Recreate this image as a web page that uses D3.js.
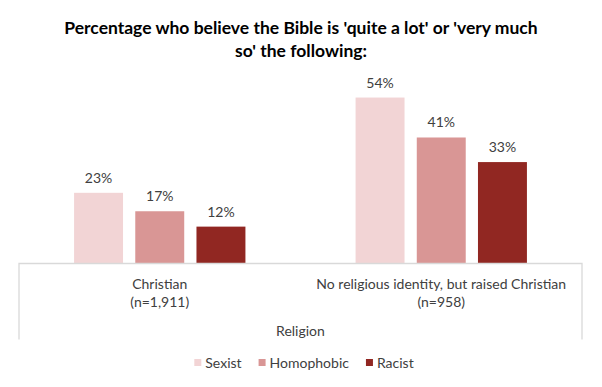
<!DOCTYPE html>
<html>
<head>
<meta charset="utf-8">
<script src="https://cdn.jsdelivr.net/npm/d3@7"></script>
<style>
  body { margin: 0; background: #fff; }
  text { font-family: Lato, "Open Sans", sans-serif; }
</style>
</head>
<body>
<div id="chart"></div>
<script>
// Chart data
const groups = ["Christian", "No religious identity, but raised Christian"];
const groupNotes = ["(n=1,911)", "(n=958)"];
const series = ["Sexist", "Homophobic", "Racist"];
const sexist = [23, 54];
const homophobic = [17, 41];
const racist = [12, 33];
const colors = ["#f2d4d5", "#d99695", "#912722"];

const W = 602, H = 387;
const left = 19, right = 582, base = 263.5;

const svg = d3.select("#chart")
  .append("svg")
  .attr("width", W)
  .attr("height", H);

// Title
svg.append("text")
  .attr("x", 301).attr("y", 33.5)
  .attr("text-anchor", "middle")
  .style("font-size", "17.5px").style("font-weight", "bold").attr("fill", "#000")
  .text("Percentage who believe the Bible is 'quite a lot' or 'very much");
svg.append("text")
  .attr("x", 301).attr("y", 57)
  .attr("text-anchor", "middle")
  .style("font-size", "17.5px").style("font-weight", "bold").attr("fill", "#000")
  .text("so' the following:");

// Scales
const x0 = d3.scaleBand().domain(groups).range([left, right]);
const x1 = d3.scaleBand().domain(series).range([0, x0.bandwidth()])
  .paddingInner(0.2).paddingOuter(0.9);
const y = d3.scaleLinear().domain([0, 60]).range([base, base - 184.4]);
const color = d3.scaleOrdinal().domain(series).range(colors);

const values = { Sexist: sexist, Homophobic: homophobic, Racist: racist };
const rows = [];
groups.forEach((g, gi) => {
  series.forEach(s => rows.push({ group: g, key: s, value: values[s][gi] }));
});

// Bars
svg.selectAll(".bar")
  .data(rows)
  .enter()
  .append("rect")
  .attr("x", d => x0(d.group) + x1(d.key))
  .attr("y", d => y(d.value))
  .attr("width", x1.bandwidth())
  .attr("height", d => y(0) - y(d.value))
  .attr("fill", d => color(d.key));

// Value labels
svg.selectAll(".val")
  .data(rows)
  .enter()
  .append("text")
  .attr("x", d => x0(d.group) + x1(d.key) + x1.bandwidth() / 2)
  .attr("y", d => y(d.value) - 10)
  .attr("text-anchor", "middle")
  .style("font-size", "14px").attr("fill", "#404040")
  .text(d => d.value + "%");

// Category axis box
const axisBottom = 339.5;
svg.append("path")
  .attr("d", `M${left},${axisBottom}V${y(0)}H${right}V${axisBottom}`)
  .attr("fill", "none")
  .attr("stroke", "#d9d9d9")
  .attr("stroke-width", 1.3);

// Category labels
groups.forEach((g, i) => {
  const cx = x0(g) + x0.bandwidth() / 2;
  svg.append("text")
    .attr("x", cx).attr("y", 289)
    .attr("text-anchor", "middle")
    .style("font-size", "14px").attr("fill", "#404040")
    .text(g);
  svg.append("text")
    .attr("x", cx).attr("y", 306.5)
    .attr("text-anchor", "middle")
    .style("font-size", "14px").attr("fill", "#404040")
    .text(groupNotes[i]);
});

svg.append("text")
  .attr("x", (left + right) / 2).attr("y", 335.5)
  .attr("text-anchor", "middle")
  .style("font-size", "14px").attr("fill", "#404040")
  .text("Religion");

// Legend
const legend = svg.append("g");
let lx = 0;
series.forEach(s => {
  const item = legend.append("g").attr("transform", `translate(${lx},0)`);
  item.append("rect")
    .attr("x", 0).attr("y", -3.5)
    .attr("width", 7).attr("height", 7)
    .attr("fill", color(s));
  const t = item.append("text")
    .attr("x", 11).attr("y", 5)
    .style("font-size", "14px").attr("fill", "#404040")
    .text(s);
  lx += 11 + t.node().getComputedTextLength() + 17;
});
const legendWidth = lx - 17;
legend.attr("transform", `translate(${(W - legendWidth) / 2 + 3},362.5)`);
</script>
</body>
</html>
